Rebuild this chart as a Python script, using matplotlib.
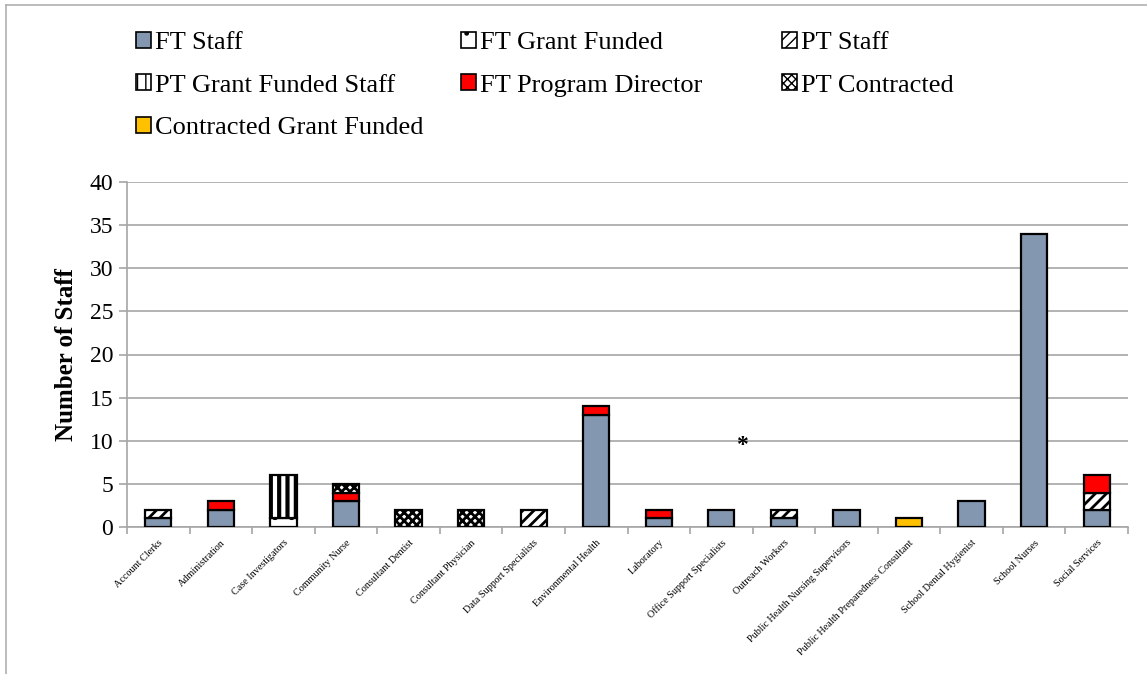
import numpy as np
import matplotlib
matplotlib.use("Agg")
import matplotlib.pyplot as plt
from matplotlib.patches import Patch
from matplotlib.lines import Line2D

plt.rcParams['font.family'] = ['Liberation Serif', 'DejaVu Serif']

categories = ["Account Clerks", "Administration", "Case Investigators", "Community Nurse",
              "Consultant Dentist", "Consultant Physician", "Data Support Specialists",
              "Environmental Health", "Laboratory", "Office Support Specialists",
              "Outreach Workers", "Public Health Nursing Supervisors",
              "Public Health Preparedness Consultant", "School Dental Hygienist",
              "School Nurses", "Social Services"]

ft_staff          = [1, 2, 0, 3, 0, 0, 0, 13, 1, 2, 1, 2, 0, 3, 34, 2]
ft_grant_funded   = [0, 0, 1, 0, 0, 0, 0, 0, 0, 0, 0, 0, 0, 0, 0, 0]
pt_staff          = [1, 0, 0, 0, 0, 0, 2, 0, 0, 0, 1, 0, 0, 0, 0, 2]
pt_grant_funded   = [0, 0, 5, 0, 0, 0, 0, 0, 0, 0, 0, 0, 0, 0, 0, 0]
ft_prog_director  = [0, 1, 0, 1, 0, 0, 0, 1, 1, 0, 0, 0, 0, 0, 0, 2]
pt_contracted     = [0, 0, 0, 1, 2, 2, 0, 0, 0, 0, 0, 0, 0, 0, 0, 0]
contracted_grant  = [0, 0, 0, 0, 0, 0, 0, 0, 0, 0, 0, 0, 1, 0, 0, 0]

# name, values, face colour, hatch, hatch linewidth
series = [
    ("FT Staff", ft_staff, "#8497B0", None, 1.0),
    ("FT Grant Funded", ft_grant_funded, "white", ".", 2.5),
    ("PT Staff", pt_staff, "white", "///", 2.0),
    ("PT Grant Funded Staff", pt_grant_funded, "white", "||", 3.0),
    ("FT Program Director", ft_prog_director, "#FF0000", None, 1.0),
    ("PT Contracted", pt_contracted, "white", "xxxx", 2.0),
    ("Contracted Grant Funded", contracted_grant, "#FFC000", None, 1.0),
]

W, H = 1147, 674
fig = plt.figure(figsize=(W / 100, H / 100), dpi=100)
ax = fig.add_axes([127 / W, 1 - 527 / H, (1128 - 127) / W, (527 - 182) / H])

x = np.arange(len(categories))
bottom = np.zeros(len(categories))
handles = []
for name, vals, color, hatch, hlw in series:
    vals = np.array(vals, dtype=float)
    with plt.rc_context({'hatch.linewidth': hlw}):
        bars = ax.bar(x, vals, width=0.42, bottom=bottom, color=color, edgecolor="black",
                      linewidth=1.6, hatch=hatch, zorder=3)
    with plt.rc_context({'hatch.linewidth': min(hlw, 1.2)}):
        h = Patch(facecolor=color, edgecolor="black", linewidth=1.2, hatch=hatch)
    for i, b in enumerate(bars):
        if vals[i] == 0:
            b.set_visible(False)
        if hasattr(b, "set_hatch_linewidth"):
            b.set_hatch_linewidth(hlw)
    handles.append((name, h))
    bottom += vals

ax.set_xlim(-0.5, len(categories) - 0.5)
ax.set_ylim(0, 40)
ax.set_yticks(np.arange(0, 41, 5))
ax.yaxis.grid(True, color="#a6a6a6", linewidth=1.2, zorder=0)
ax.set_axisbelow(True)
for s in ["top", "right"]:
    ax.spines[s].set_visible(False)
for s in ["left", "bottom"]:
    ax.spines[s].set_color("#a6a6a6")
    ax.spines[s].set_linewidth(1.2)
ax.tick_params(axis="y", labelsize=17, length=6, color="#a6a6a6", width=1.2, pad=4)
ax.set_xticks(x)
ax.set_xticklabels(categories, rotation=45, ha="right", rotation_mode="anchor", fontsize=7.3)
ax.tick_params(axis="x", which="major", length=0, pad=8)
ax.set_xticks(np.arange(-0.5, len(categories), 1), minor=True)
ax.tick_params(axis="x", which="minor", length=5, color="#a6a6a6", width=1.2)
ax.set_ylabel("Number of Staff", fontsize=18, fontweight="bold", labelpad=8)

ax.text(9.33, 9.4, "*", fontsize=17, fontweight="bold", ha="center", va="center")

# legend laid out row by row in three fixed columns
cols = [[0, 3, 6], [1, 4], [2, 5]]
col_x = [136, 461, 782]
for ci, idx in enumerate(cols):
    fig.legend([handles[i][1] for i in idx], [handles[i][0] for i in idx],
               loc="upper left", bbox_to_anchor=(col_x[ci] / W, 1 - 32 / H),
               frameon=False, fontsize=19, handlelength=0.56, handleheight=0.56,
               handletextpad=0.15, labelspacing=0.76, borderpad=0, borderaxespad=0)

# chart border (top and left edges visible)
fig.add_artist(Line2D([6 / W, 6 / W], [0, 1 - 5 / H], color="#b0b0b0", linewidth=1.2))
fig.add_artist(Line2D([6 / W, 1], [1 - 5 / H, 1 - 5 / H], color="#b0b0b0", linewidth=1.2))

fig.savefig("out.png", dpi=100)
